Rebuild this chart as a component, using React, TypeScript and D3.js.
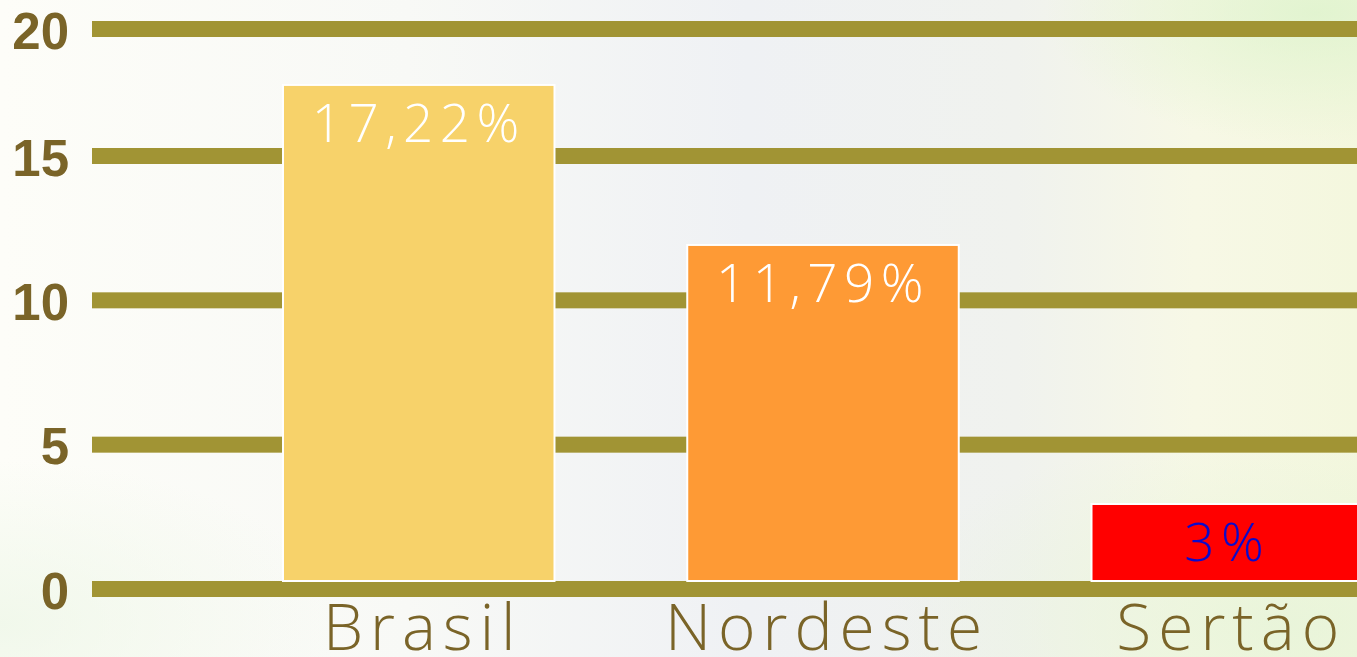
import React from "react";
import * as d3 from "d3";

const categories = ["Brasil", "Nordeste", "Sertão"];
const values = [17.22, 11.79, 3];
const ticks = [0, 5, 10, 15, 20];

const barFills = ["#F7D26A", "#FE9A35", "#FF0000"];
const labelFills = ["#FFFFFF", "#FFFFFF", "#0A0ACC"];

const W = 1357;
const H = 657;

const ptLocale = d3.formatLocale({ decimal: ",", thousands: ".", grouping: [3], currency: ["R$", ""] });
const fmt = ptLocale.format(".2~f");

export default function App() {
  const gridY = d3.scaleLinear().domain([0, 15, 20]).range([589, 156, 29]);
  const barY = d3.scaleLinear().domain([0, 20]).range([592.4, 3]);
  const x = d3
    .scaleBand<string>()
    .domain(categories)
    .range([283, 1363])
    .paddingInner(0.3284)
    .paddingOuter(0);
  const gridThick = 16;
  const base = gridY(0) - gridThick / 2;

  return (
    <svg
      width={W}
      height={H}
      style={{ position: "absolute", left: 0, top: 0, display: "block", overflow: "hidden" }}
    >
      <defs>
        <linearGradient id="bgH" x1="0" y1="0" x2="1" y2="0">
          <stop offset="0" stopColor="#FDFDF8" />
          <stop offset="0.3" stopColor="#F8F9F6" />
          <stop offset="0.55" stopColor="#EFF1F4" />
          <stop offset="0.75" stopColor="#F0F2EE" />
          <stop offset="0.88" stopColor="#F7F8E6" />
          <stop offset="1" stopColor="#F4F7DE" />
        </linearGradient>
        <radialGradient id="green1" cx="0.97" cy="0.02" r="0.2">
          <stop offset="0" stopColor="#DDF3CC" stopOpacity="0.8" />
          <stop offset="1" stopColor="#DDF3CC" stopOpacity="0" />
        </radialGradient>
        <radialGradient id="green2" cx="0.0" cy="0.95" r="0.25">
          <stop offset="0" stopColor="#EEF7E8" stopOpacity="0.8" />
          <stop offset="1" stopColor="#EEF7E8" stopOpacity="0" />
        </radialGradient>
        <radialGradient id="green3" cx="0.95" cy="0.95" r="0.3">
          <stop offset="0" stopColor="#E6F4D8" stopOpacity="0.8" />
          <stop offset="1" stopColor="#E6F4D8" stopOpacity="0" />
        </radialGradient>
      </defs>
      <rect x={0} y={0} width={W} height={H} fill="url(#bgH)" />
      <rect x={0} y={0} width={W} height={H} fill="url(#green1)" />
      <rect x={0} y={0} width={W} height={H} fill="url(#green2)" />
      <rect x={0} y={0} width={W} height={H} fill="url(#green3)" />

      {ticks.map((t) => (
        <g key={t}>
          <rect x={92} y={gridY(t) - gridThick / 2} width={W - 92} height={gridThick} fill="#A19434" />
          <text
            x={69}
            y={gridY(t) + 2}
            textAnchor="end"
            dominantBaseline="central"
            fontFamily="'Liberation Sans', Arial, sans-serif"
            fontWeight="bold"
            fontSize={51}
            fill="#7A6428"
          >
            {t}
          </text>
        </g>
      ))}

      {categories.map((c, i) => (
        <g key={c}>
          <rect
            x={x(c)!}
            y={barY(values[i])}
            width={x.bandwidth()}
            height={base - barY(values[i])}
            fill={barFills[i]}
            stroke="#FFFFFF"
            strokeWidth={2}
          />
          <text
            x={x(c)! + x.bandwidth() / 2}
            y={barY(values[i]) + 57}
            textAnchor="middle"
            fontFamily="'Open Sans', sans-serif"
            fontWeight={300}
            fontSize={53}
            letterSpacing={6.5}
            fill={labelFills[i]}
          >
            {fmt(values[i]) + "%"}
          </text>
          <text
            x={x(c)! + x.bandwidth() / 2 + 4}
            y={gridY(0) + 61}
            textAnchor="middle"
            fontFamily="'Open Sans', sans-serif"
            fontWeight={300}
            fontSize={64}
            letterSpacing={7}
            fill="#7A6428"
          >
            {c}
          </text>
        </g>
      ))}
    </svg>
  );
}
